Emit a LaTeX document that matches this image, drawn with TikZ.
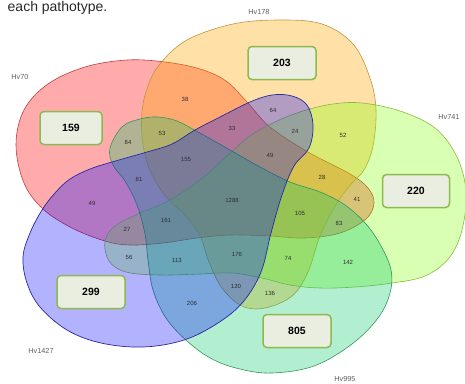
\documentclass[tikz,border=0pt]{standalone}
\usepackage{fontspec}
\setmainfont{Liberation Sans}
\definecolor{cR}{RGB}{255,0,0}
\definecolor{cY}{RGB}{255,165,0}
\definecolor{cL}{RGB}{127,255,0}
\definecolor{cG}{RGB}{0,200,100}
\definecolor{cB}{RGB}{0,0,255}
\definecolor{oR}{RGB}{190,60,60}
\definecolor{oY}{RGB}{190,150,60}
\definecolor{oL}{RGB}{140,185,60}
\definecolor{oG}{RGB}{50,150,90}
\definecolor{oB}{RGB}{40,40,160}
\definecolor{boxfill}{RGB}{234,238,224}
\definecolor{boxline}{RGB}{140,185,80}
\definecolor{numc}{RGB}{45,45,45}
\definecolor{setc}{RGB}{95,95,95}
\definecolor{capc}{RGB}{40,40,40}
\begin{document}
\begin{tikzpicture}[x=1pt,y=-1pt,
  setshape/.style={line width=0.6pt, fill opacity=#1},
  cbox/.style={draw=boxline, fill=boxfill, line width=1.5pt, rounded corners=4pt,
    minimum width=64pt, minimum height=33pt, font=\fontsize{10.5}{12}\selectfont\bfseries, text=black},
  num/.style={font=\fontsize{6}{7}\selectfont, text=numc, inner sep=0pt},
  setlab/.style={font=\fontsize{7.3}{8}\selectfont, text=setc, inner sep=0pt}]
\useasboundingbox (0,0) rectangle (465,383);
% Hv70 (red)
\draw[setshape=0.33, draw=oR, fill=cR] plot[smooth cycle, tension=0.6] coordinates {
 (16,145) (24,110) (48,84) (85,67) (127,60) (165,62) (200,69) (226,81) (247,102) (270,127)
 (308,152) (350,174) (368,188) (374,203) (366,219) (340,233) (305,238) (270,236) (230,235)
 (197,238) (163,243) (130,245) (105,241) (72,228) (43,209) (24,183)};
% Hv178 (yellow)
\draw[setshape=0.35, draw=oY, fill=cY] plot[smooth cycle, tension=0.6] coordinates {
 (160,64) (187,40) (233,24) (280,20) (322,24) (353,44) (370,78) (376,110) (373,146) (364,170)
 (352,183) (337,203) (320,236) (308,272) (292,296) (265,308) (242,306) (222,288) (209,262)
 (200,236) (185,215) (168,199) (152,175) (143,145) (142,112) (148,86)};
% Hv741 (light green)
\draw[setshape=0.3, draw=oL, fill=cL] plot[smooth cycle, tension=0.6] coordinates {
 (105,241) (115,226) (138,214) (168,201) (200,180) (226,157) (250,136) (275,122) (303,111)
 (333,104) (362,103) (400,111) (435,128) (457,157) (466,192) (462,230) (449,258) (425,276)
 (392,283) (355,287) (320,288) (290,285) (262,278) (232,273) (200,274) (160,275) (126,272) (109,261)};
% Hv995 (green)
\draw[setshape=0.3, draw=oG, fill=cG] plot[smooth cycle, tension=0.6] coordinates {
 (110,148) (122,127) (140,119) (158,117) (177,121) (198,132) (230,150) (260,167) (290,182)
 (320,192) (345,205) (366,224) (381,246) (391,270) (390,293) (378,318) (352,344) (314,366)
 (272,373) (240,369) (212,359) (187,341) (166,318) (153,290) (148,260) (145,234) (137,205)
 (125,181) (113,165)};
% Hv1427 (blue)
\draw[setshape=0.3, draw=oB, fill=cB, line width=0.7pt] plot[smooth cycle, tension=0.6] coordinates {
 (23,257) (30,233) (42,210) (55,193) (70,179) (90,169) (112,162) (147,152) (172,144) (195,130)
 (222,116) (250,102) (272,95) (292,96) (307,105) (313,125) (309,148) (294,166) (282,195)
 (271,233) (261,272) (243,302) (218,323) (184,340) (143,347) (101,343) (67,330) (40,307) (27,283)};
% caption fragment
\node[anchor=base west, inner sep=0pt, font=\fontsize{14}{16}\selectfont, text=capc] (cap) at (7.5,11) {each pathotype.};
% set labels
\node[setlab] (lR) at (20,77) {Hv70};
\node[setlab] (lY) at (259,12) {Hv178};
\node[setlab] (lL) at (449,117) {Hv741};
\node[setlab] (lB) at (41,351) {Hv1427};
\node[setlab] (lG) at (345,379) {Hv995};
% unique boxes
\node[cbox, minimum width=62pt] (b159) at (71,128) {159};
\node[cbox, minimum width=68pt] (b203) at (282,63) {203};
\node[cbox, minimum width=67pt] (b220) at (416,191) {220};
\node[cbox, minimum width=68pt] (b805) at (297,331) {805};
\node[cbox, minimum width=68pt] (b299) at (91,292) {299};
% intersection counts
\node[num] (n38) at (185,99) {38};
\node[num] (n84) at (128,142) {84};
\node[num] (n53) at (162,133) {53};
\node[num] (n33) at (232,128) {33};
\node[num] (n155) at (186,159) {155};
\node[num] (n81) at (139,179) {81};
\node[num] (n64) at (273,110) {64};
\node[num] (n24) at (295,131) {24};
\node[num] (n52) at (343,135) {52};
\node[num] (n49a) at (270,155) {49};
\node[num] (n28) at (322,177) {28};
\node[num] (n41) at (357,199) {41};
\node[num] (n105) at (300,213) {105};
\node[num] (n83) at (339,223) {83};
\node[num] (n1288) at (232,200) {1288};
\node[num] (n161) at (166,220) {161};
\node[num] (n49b) at (92,203) {49};
\node[num] (n27) at (127,229) {27};
\node[num] (n56) at (129,257) {56};
\node[num] (n113) at (177,260) {113};
\node[num] (n176) at (237,254) {176};
\node[num] (n74) at (288,258) {74};
\node[num] (n142) at (348,262) {142};
\node[num] (n120) at (236,286) {120};
\node[num] (n136) at (270,293) {136};
\node[num] (n206) at (192,303) {206};
\end{tikzpicture}
\end{document}
